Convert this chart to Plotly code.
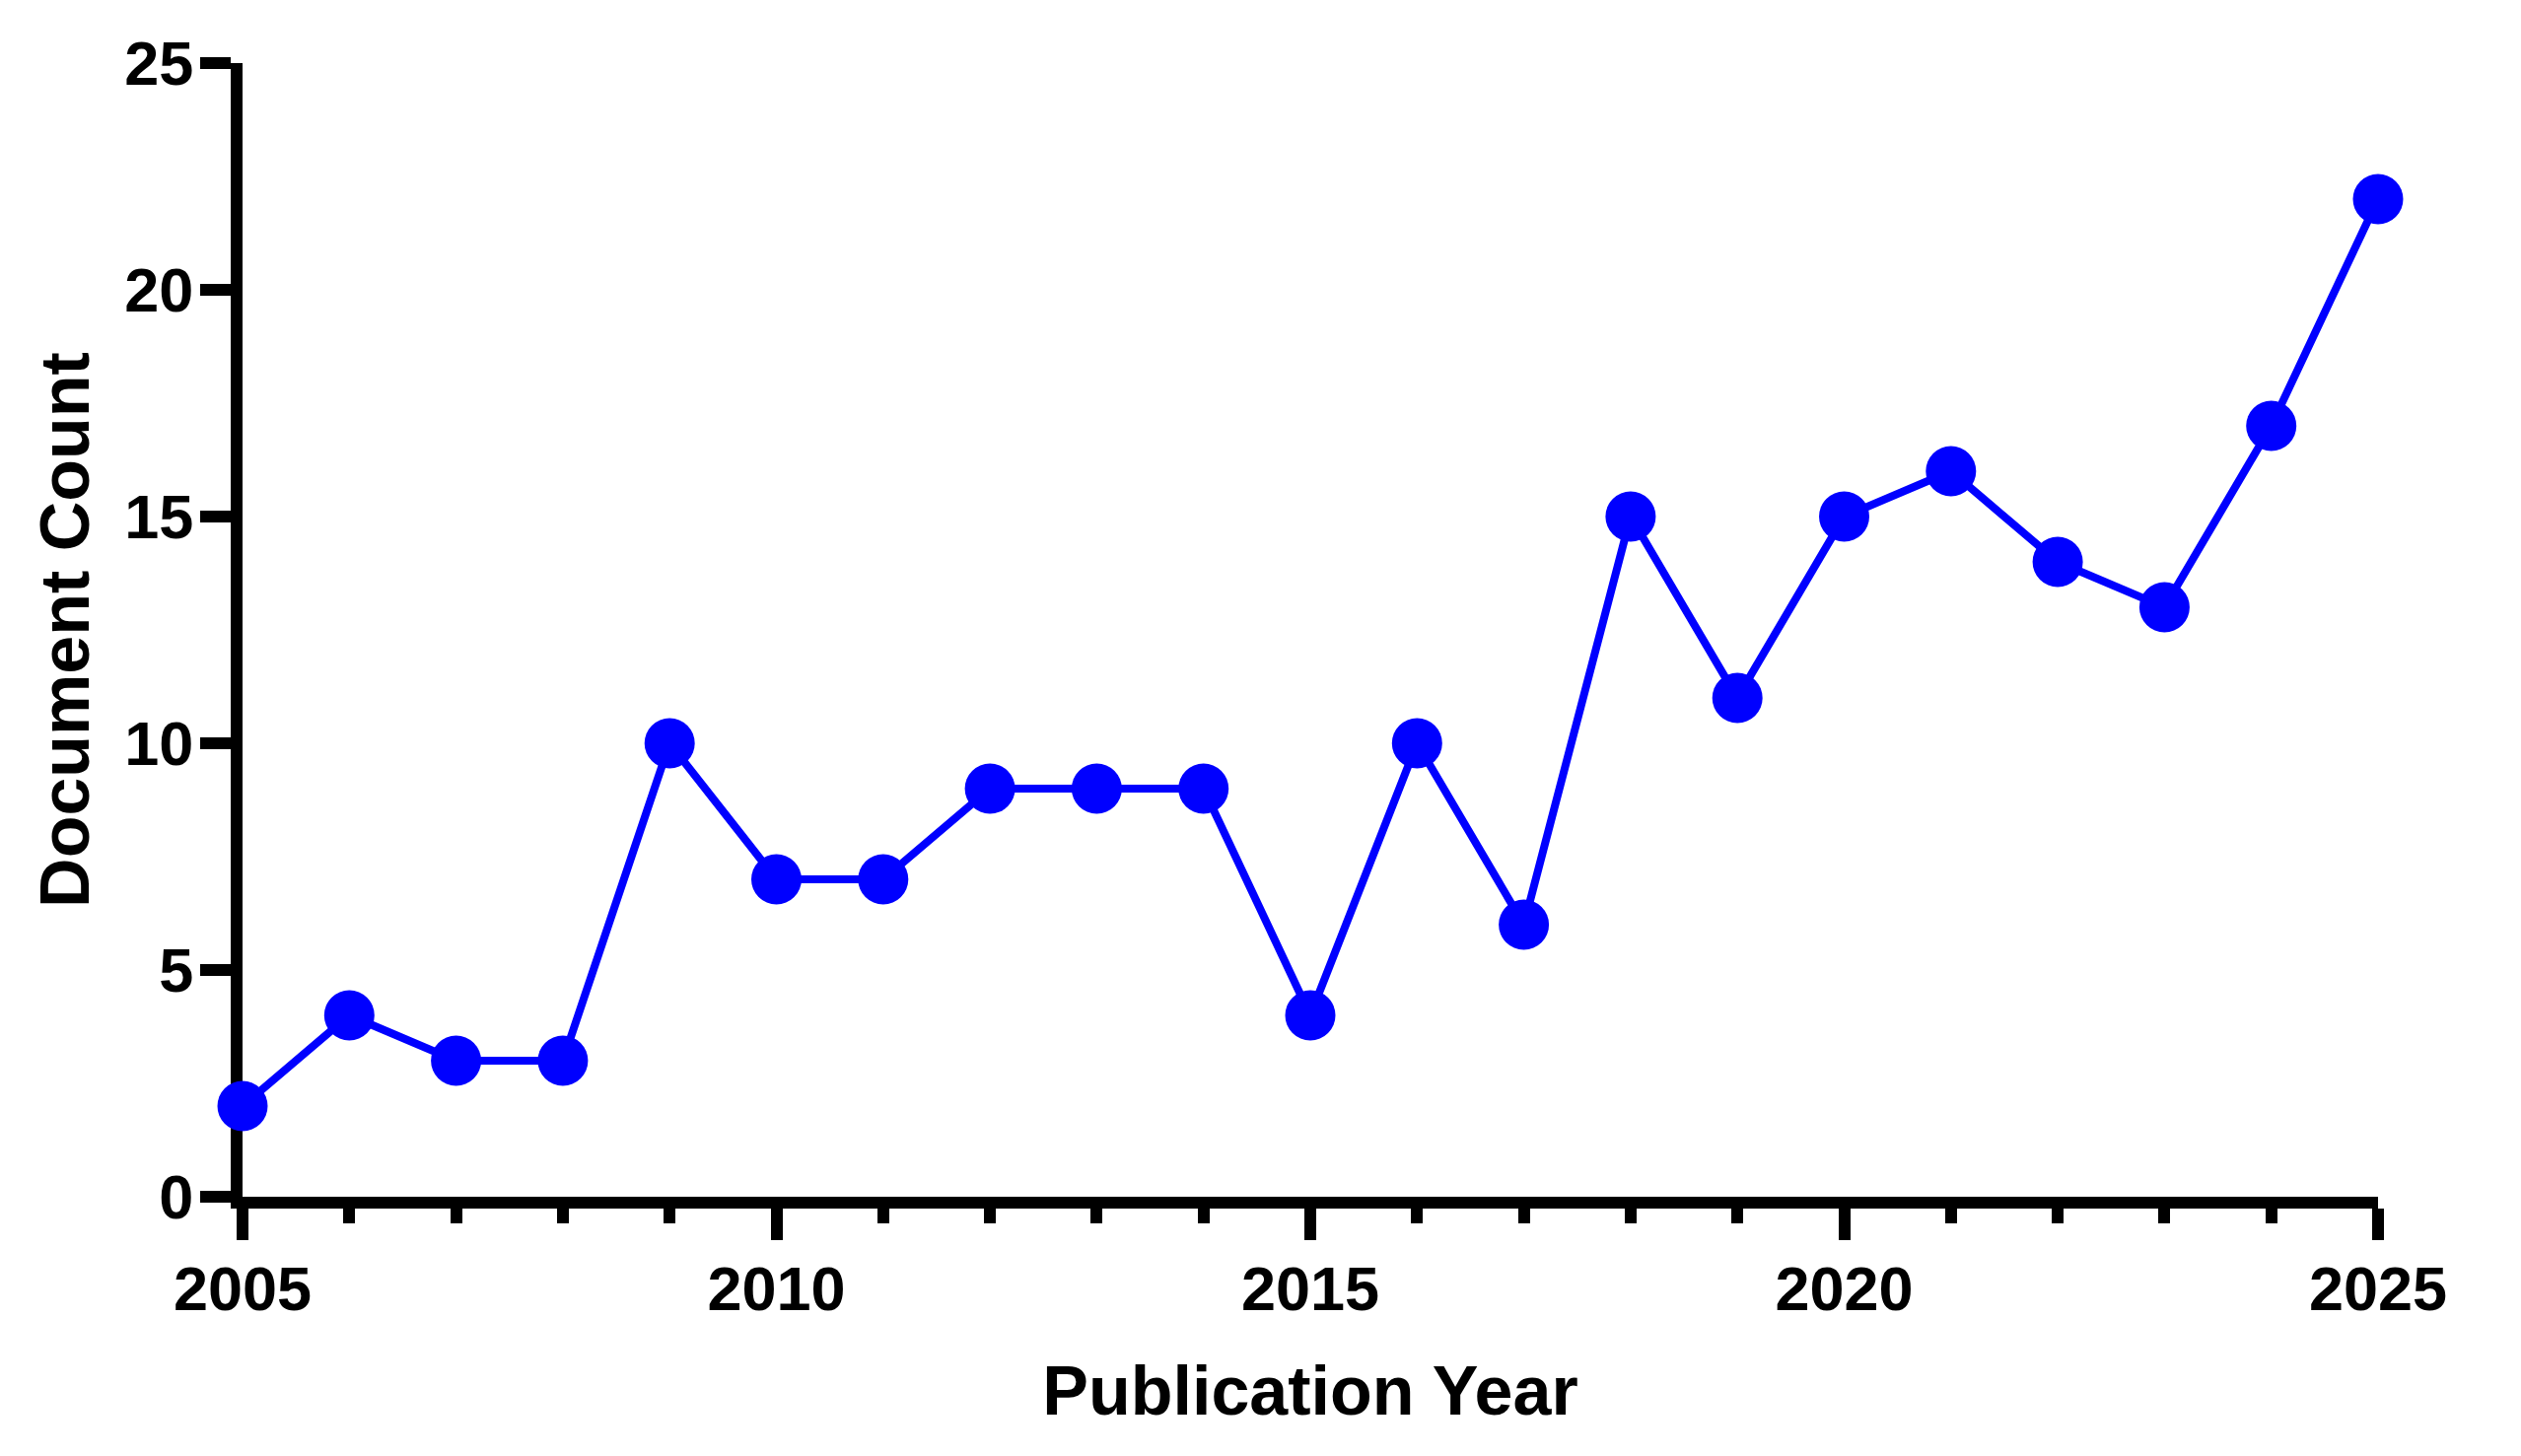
import plotly.graph_objects as go

years = [2005, 2006, 2007, 2008, 2009, 2010, 2011, 2012, 2013, 2014, 2015,
         2016, 2017, 2018, 2019, 2020, 2021, 2022, 2023, 2024, 2025]
counts = [2, 4, 3, 3, 10, 7, 7, 9, 9, 9, 4, 10, 6, 15, 11, 15, 16, 14, 13, 17, 22]

x_ticks = [2005, 2010, 2015, 2020, 2025]
y_ticks = [0, 5, 10, 15, 20, 25]

FONT = "Liberation Sans, Arial, sans-serif"

fig = go.Figure()
fig.add_trace(go.Scatter(
    x=years, y=counts, mode="lines+markers",
    line=dict(color="#0000FF", width=8),
    marker=dict(color="#0000FF", size=51, line=dict(width=0)),
    cliponaxis=False, showlegend=False,
))

fig.update_layout(
    width=2557, height=1477,
    plot_bgcolor="white", paper_bgcolor="white",
    margin=dict(l=246, r=145, t=64, b=263, autoexpand=False),
    font=dict(family=FONT, color="black", size=63, weight="bold"),
)
fig.update_xaxes(
    range=[2005, 2025], tickvals=x_ticks, ticktext=[str(v) for v in x_ticks],
    showgrid=False, zeroline=False,
    showline=True, linecolor="black", linewidth=12,
    ticks="outside", ticklen=32, tickwidth=12, tickcolor="black",
    minor=dict(dtick=1, tick0=2005, ticks="outside", ticklen=15, tickwidth=12,
               tickcolor="black", showgrid=False),
    tickfont=dict(family=FONT, size=63, color="black", weight="bold"),
    ticklabelstandoff=-5,
    title=dict(text="Publication Year", standoff=50,
               font=dict(family=FONT, size=70, color="black", weight="bold")),
    layer="below traces", automargin=False,
)
fig.update_yaxes(
    range=[0, 25], tickvals=y_ticks, ticktext=[str(v) for v in y_ticks],
    showgrid=False, zeroline=False,
    showline=True, linecolor="black", linewidth=12,
    ticks="outside", ticklen=31, tickwidth=12, tickcolor="black",
    tickfont=dict(family=FONT, size=63, color="black", weight="bold"),
    ticklabelstandoff=-6,
    title=dict(text="Document Count", standoff=18,
               font=dict(family=FONT, size=70, color="black", weight="bold")),
    layer="below traces", automargin=False,
)

fig.write_html("out.html", config={"displayModeBar": False},
               post_script="document.body.style.margin='0px';")
